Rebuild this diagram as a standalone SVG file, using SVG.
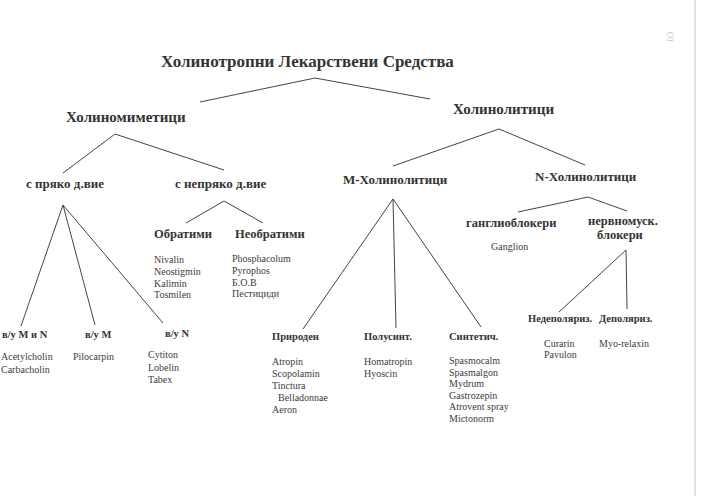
<svg xmlns="http://www.w3.org/2000/svg" width="702" height="496" viewBox="0 0 702 496">
<style>
text{font-family:"Liberation Serif","Times New Roman",serif;fill:#333}
.b{font-weight:bold}
.t{font-size:17px}
.l1{font-size:15px}
.l2{font-size:13px}
.l3{font-size:12.5px}
.l4{font-size:10.5px}
.d{font-size:10px;fill:#3c3c3c}
.c line,.c polyline{stroke:#444;stroke-width:1;fill:none}
</style>
<rect width="702" height="496" fill="#fff"/>
<line x1="695" y1="0" x2="695" y2="496" stroke="#d8d8d8" stroke-width="1.5"/>
<text x="668" y="32" transform="rotate(90 668 32)" style="fill:#bbb;font-size:8px">(3)</text>

<g class="c" id="connectors">
<polyline points="200,102 315,78 430,99"/>
<polyline points="63,173 115,134 224,170"/>
<polyline points="393,166 499,129 585,165"/>
<polyline points="21,326 63,205 95,325"/>
<line x1="63" y1="205" x2="163" y2="323"/>
<polyline points="186,223 224,201 263,223"/>
<polyline points="303,329 393,199 481,327"/>
<line x1="393" y1="199" x2="396" y2="328"/>
<polyline points="518,212 588,197 627,211"/>
<polyline points="559,312 626,250 627,309"/>
</g>

<g id="root"><text class="b t" x="161" y="67">Холинотропни Лекарствени Средства</text></g>
<g id="holinomimetici"><text class="b l1" x="66" y="122">Холиномиметици</text></g>
<g id="holinolitici"><text class="b l1" x="453" y="114">Холинолитици</text></g>

<g id="pryako"><text class="b l2" x="26" y="188">с пряко д.вие</text></g>
<g id="nepryako"><text class="b l2" x="175" y="188">с непряко д.вие</text></g>
<g id="m-holinolitici"><text class="b l2" x="343" y="184">М-Холинолитици</text></g>
<g id="n-holinolitici"><text class="b l2" x="535" y="181">N-Холинолитици</text></g>

<g id="obratimi">
<text class="b l3" x="154" y="238">Обратими</text>
<text class="d" x="154" y="263">Nivalin</text>
<text class="d" x="154" y="275">Neostigmin</text>
<text class="d" x="154" y="287">Kalimin</text>
<text class="d" x="154" y="298">Tosmilen</text>
</g>
<g id="neobratimi">
<text class="b l3" x="235" y="238">Необратими</text>
<text class="d" x="232" y="262">Phosphacolum</text>
<text class="d" x="232" y="274">Pyrophos</text>
<text class="d" x="232" y="286">Б.О.В</text>
<text class="d" x="232" y="297">Пестициди</text>
</g>

<g id="vu-m-n">
<text class="b l4" x="2" y="338">в/у М и N</text>
<text class="d" x="1" y="360">Acetylcholin</text>
<text class="d" x="1" y="373">Carbacholin</text>
</g>
<g id="vu-m">
<text class="b l4" x="85" y="338">в/у М</text>
<text class="d" x="73" y="360">Pilocarpin</text>
</g>
<g id="vu-n">
<text class="b l4" x="165" y="337">в/у N</text>
<text class="d" x="148" y="358">Cytiton</text>
<text class="d" x="148" y="371">Lobelin</text>
<text class="d" x="148" y="383">Tabex</text>
</g>

<g id="priroden">
<text class="b l4" x="272" y="340">Природен</text>
<text class="d" x="272" y="365">Atropin</text>
<text class="d" x="272" y="377">Scopolamin</text>
<text class="d" x="272" y="389">Tinctura</text>
<text class="d" x="278" y="401">Belladonnae</text>
<text class="d" x="272" y="413">Aeron</text>
</g>
<g id="polusint">
<text class="b l4" x="364" y="340">Полусинт.</text>
<text class="d" x="364" y="365">Homatropin</text>
<text class="d" x="364" y="377">Hyoscin</text>
</g>
<g id="sintetich">
<text class="b l4" x="449" y="340">Синтетич.</text>
<text class="d" x="449" y="364">Spasmocalm</text>
<text class="d" x="449" y="376">Spasmalgon</text>
<text class="d" x="449" y="387">Mydrum</text>
<text class="d" x="449" y="399">Gastrozepin</text>
<text class="d" x="449" y="410">Atrovent spray</text>
<text class="d" x="449" y="422">Mictonorm</text>
</g>

<g id="ganglioblokeri">
<text class="b l3" x="466" y="227">ганглиоблокери</text>
<text class="d" x="491" y="250">Ganglion</text>
</g>
<g id="nervnomusk">
<text class="b l3" x="588" y="225">нервномуск.</text>
<text class="b l3" x="597" y="239">блокери</text>
</g>
<g id="nedepolyariz">
<text class="b l4" x="528" y="322">Недеполяриз.</text>
<text class="d" x="544" y="347">Curarin</text>
<text class="d" x="544" y="358">Pavulon</text>
</g>
<g id="depolyariz">
<text class="b l4" x="599" y="322">Деполяриз.</text>
<text class="d" x="599" y="347">Myo-relaxin</text>
</g>
</svg>
